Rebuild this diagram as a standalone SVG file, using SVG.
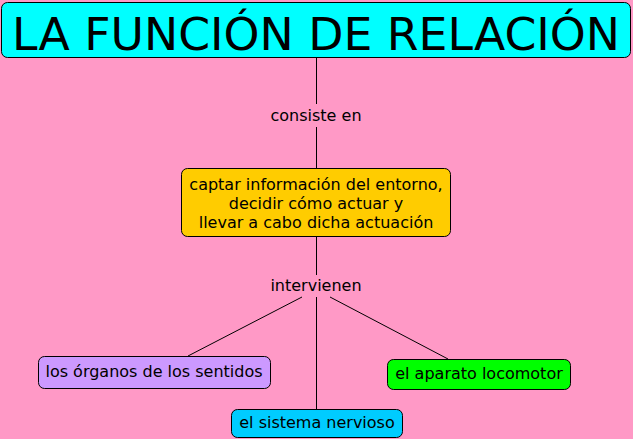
<svg xmlns="http://www.w3.org/2000/svg" width="633" height="439" viewBox="0 0 633 439">
<style>
.box{stroke:#000;stroke-width:1}
.t{font-family:"DejaVu Sans",Verdana,sans-serif;font-size:16px;fill:#000;text-anchor:middle}
.lbl{font-family:"DejaVu Sans",Verdana,sans-serif;font-size:16px;fill:#000;text-anchor:middle}
.c{stroke:#000;stroke-width:1;fill:none}
</style>
<rect x="0" y="0" width="633" height="439" fill="#ff99c6"/>
<g id="connectors">
<line class="c" x1="316.5" y1="58" x2="316.5" y2="104"/>
<line class="c" x1="316.5" y1="127" x2="316.5" y2="168"/>
<line class="c" x1="316.5" y1="236" x2="316.5" y2="275"/>
<line class="c" x1="302" y1="297" x2="188" y2="356"/>
<line class="c" x1="316.5" y1="297" x2="316.5" y2="409"/>
<line class="c" x1="330" y1="297" x2="448" y2="359"/>
<text class="lbl" x="316" y="121">consiste en</text>
<text class="lbl" x="316" y="291">intervienen</text>
</g>
<g id="title">
<rect class="box" x="1.5" y="2.5" width="629" height="55" rx="6" fill="#00ffff"/>
<text x="316" y="50" font-family="DejaVu Sans,Verdana,sans-serif" font-size="45" text-anchor="middle" textLength="608" lengthAdjust="spacingAndGlyphs">LA FUNCIÓN DE RELACIÓN</text>
</g>
<g id="captar">
<rect class="box" x="181.5" y="168.5" width="269" height="68" rx="6" fill="#ffcc00"/>
<text class="t" x="316" y="190">captar información del entorno,</text>
<text class="t" x="316" y="209">decidir cómo actuar y</text>
<text class="t" x="316" y="228">llevar a cabo dicha actuación</text>
</g>
<g id="organos">
<rect class="box" x="38.5" y="356.5" width="232" height="32" rx="6" fill="#cc99ff"/>
<text class="t" x="154" y="377">los órganos de los sentidos</text>
</g>
<g id="locomotor">
<rect class="box" x="387.5" y="359.5" width="183" height="30" rx="6" fill="#00ff00"/>
<text class="t" x="479" y="379">el aparato locomotor</text>
</g>
<g id="nervioso">
<rect class="box" x="231.5" y="409.5" width="171" height="28" rx="6" fill="#00ccff"/>
<text class="t" x="317" y="428">el sistema nervioso</text>
</g>
</svg>
